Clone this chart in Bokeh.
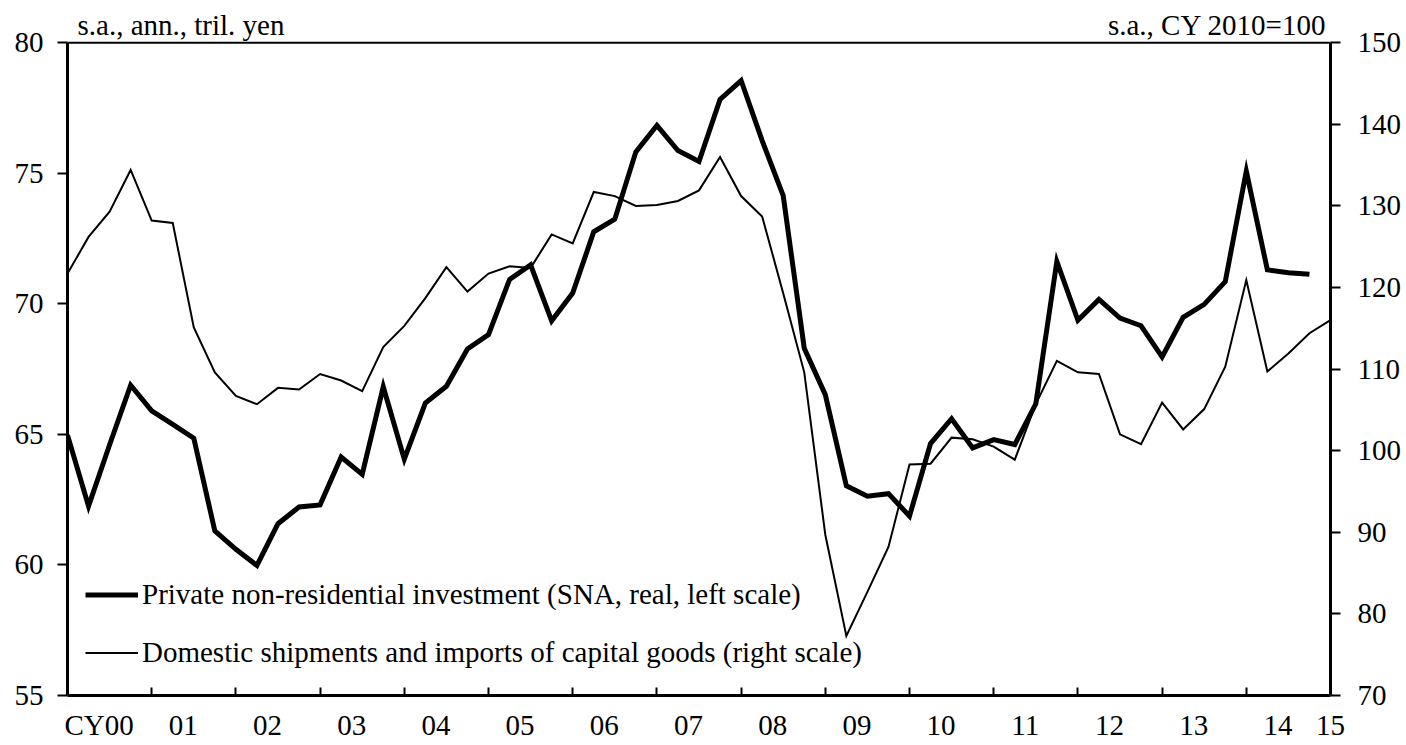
from bokeh.plotting import figure
from bokeh.models import (Range1d, LinearAxis, FixedTicker, Legend, LegendItem, Label, Span)
from bokeh.embed import file_html
from bokeh.resources import INLINE

# ---- data (quarterly, CY2000 Q1 onward) ----
quarters = [f"{y}Q{q}" for y in range(2000, 2016) for q in range(1, 5)][:61]

# Private non-residential investment (SNA, real), tril. yen, left scale
investment = [
    64.97, 62.25, 64.60, 66.88, 65.90, 65.38, 64.85, 61.30, 60.60, 59.98,
    61.58, 62.22, 62.30, 64.13, 63.47, 66.82, 64.05, 66.20, 66.84, 68.27,
    68.82, 70.93, 71.49, 69.35, 70.41, 72.76, 73.24, 75.82, 76.83, 75.87,
    75.45, 77.83, 78.55, 76.25, 74.14, 68.30, 66.52, 63.03, 62.63, 62.73,
    61.87, 64.65, 65.60, 64.48, 64.80, 64.61, 66.17, 71.62, 69.37, 70.17,
    69.45, 69.16, 67.97, 69.48, 69.98, 70.85, 75.08, 71.30, 71.19, 71.13,
]

# Domestic shipments and imports of capital goods, CY2010=100, right scale
shipments = [
    121.7, 126.2, 129.3, 134.4, 128.2, 127.9, 115.1, 109.6, 106.7, 105.7,
    107.7, 107.5, 109.4, 108.6, 107.3, 112.7, 115.3, 118.7, 122.5, 119.5,
    121.7, 122.6, 122.4, 126.5, 125.4, 131.7, 131.2, 130.0, 130.1, 130.6,
    131.9, 136.0, 131.2, 128.7, 119.3, 109.6, 89.7, 77.3, 82.7, 88.2,
    98.3, 98.4, 101.6, 101.4, 100.5, 98.9, 105.7, 111.0, 109.6, 109.4,
    102.0, 100.8, 105.9, 102.6, 105.1, 110.3, 120.9, 109.7, 111.9, 114.4,
    116.0,
]

year_labels = ["CY00", "01", "02", "03", "04", "05", "06", "07", "08", "09",
               "10", "11", "12", "13", "14", "15"]
left_ticks = [55, 60, 65, 70, 75, 80]
right_ticks = [70, 80, 90, 100, 110, 120, 130, 140, 150]

label_inv = "Private non-residential investment (SNA, real, left scale)"
label_ship = "Domestic shipments and imports of capital goods (right scale)"
unit_left = "s.a., ann., tril. yen"
unit_right = "s.a., CY 2010=100"

FONT = "Liberation Serif"
TICK_SIZE = "29px"
TEXT_SIZE = "29px"

n_q = len(quarters) - 1
x_inv = list(range(len(investment)))
x_ship = list(range(len(shipments)))
label_pos = [1.5 + 4 * k for k in range(len(year_labels) - 1)] + [n_q]
year_ticks = [4 * k for k in range(1, len(year_labels) - 1)]

# headroom above the top tick so that the unit notes sit inside the frame
head = 1.5
l_lo, l_hi = left_ticks[0], left_ticks[-1]
r_lo, r_hi = right_ticks[0], right_ticks[-1]
ratio = (r_hi - r_lo) / (l_hi - l_lo)

p = figure(width=1404, height=745, output_backend="svg", toolbar_location=None,
           x_range=Range1d(0, n_q), y_range=Range1d(l_lo, l_hi + head),
           min_border_left=67, min_border_right=74, min_border_top=3,
           min_border_bottom=50)
p.extra_y_ranges = {"right": Range1d(r_lo, r_hi + head * ratio)}

p.xgrid.visible = False
p.ygrid.visible = False
p.outline_line_color = None
p.background_fill_color = "white"
p.border_fill_color = "white"

# top border of the chart box
p.add_layout(Span(location=l_hi, dimension="width", line_color="black", line_width=2))

r_inv = p.line(x_inv, investment, line_color="black", line_width=5, line_join="miter")
r_ship = p.line(x_ship, shipments, line_color="black", line_width=2, line_join="miter",
                y_range_name="right")

# x axis
xa = p.xaxis[0]
xa.ticker = FixedTicker(ticks=label_pos, minor_ticks=year_ticks)
xa.major_label_overrides = {pos: lab for pos, lab in zip(label_pos, year_labels)}
xa.major_tick_in = 0
xa.major_tick_out = 0
xa.minor_tick_in = 8
xa.minor_tick_out = 0
xa.minor_tick_line_width = 2
xa.minor_tick_line_color = "black"
xa.axis_line_width = 3
xa.axis_line_color = "black"
xa.major_label_standoff = 13
xa.major_label_text_font = FONT
xa.major_label_text_font_size = TICK_SIZE
xa.major_label_text_color = "black"

# left axis
ya = p.yaxis[0]
ya.ticker = FixedTicker(ticks=left_ticks)
ya.bounds = (l_lo, l_hi)
ya.major_tick_in = 0
ya.major_tick_out = 10
ya.major_tick_line_width = 2
ya.major_tick_line_color = "black"
ya.minor_tick_line_color = None
ya.axis_line_width = 3
ya.axis_line_color = "black"
ya.major_label_standoff = 14
ya.major_label_text_font = FONT
ya.major_label_text_font_size = TICK_SIZE
ya.major_label_text_color = "black"

# right axis
ra = LinearAxis(y_range_name="right", ticker=FixedTicker(ticks=right_ticks))
ra.bounds = (r_lo, r_hi)
ra.major_tick_in = 0
ra.major_tick_out = 10
ra.major_tick_line_width = 2
ra.major_tick_line_color = "black"
ra.minor_tick_line_color = None
ra.axis_line_width = 3
ra.axis_line_color = "black"
ra.major_label_standoff = 17
ra.major_label_text_font = FONT
ra.major_label_text_font_size = TICK_SIZE
ra.major_label_text_color = "black"
p.add_layout(ra, "right")

# unit notes
note_y = l_hi + 0.66
p.add_layout(Label(x=0, y=note_y, x_offset=10, text=unit_left,
                   text_font=FONT, text_font_size=TEXT_SIZE, text_color="black",
                   text_align="left", text_baseline="alphabetic"))
p.add_layout(Label(x=n_q, y=note_y, x_offset=-4, text=unit_right,
                   text_font=FONT, text_font_size=TEXT_SIZE, text_color="black",
                   text_align="right", text_baseline="alphabetic"))

legend = Legend(items=[LegendItem(label=label_inv, renderers=[r_inv]),
                       LegendItem(label=label_ship, renderers=[r_ship])],
                location=(18, 26), orientation="vertical",
                border_line_color=None, background_fill_alpha=0,
                padding=0, margin=0, spacing=25,
                glyph_width=53, glyph_height=33, label_height=33, label_standoff=4,
                label_text_font=FONT, label_text_font_size=TEXT_SIZE,
                label_text_color="black")
p.add_layout(legend)

open("out.html", "w").write(file_html(p, INLINE))
